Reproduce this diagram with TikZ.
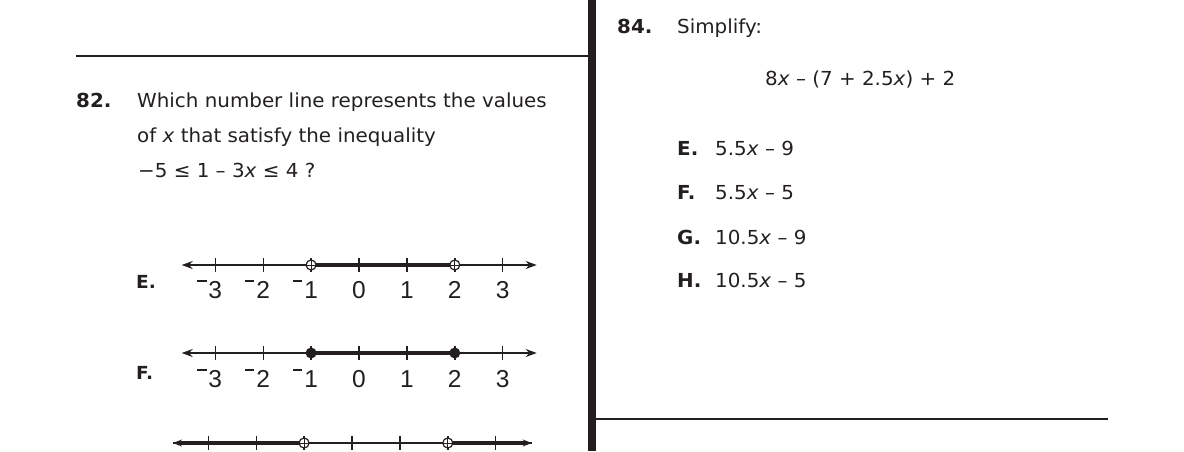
\documentclass[tikz,border=0pt]{standalone}
\usepackage{fontspec}
\setmainfont[FakeStretch=1.03]{DejaVu Sans}
\newfontfamily\numfont{Liberation Sans}
\usetikzlibrary{arrows.meta}
\definecolor{ink}{HTML}{231F20}
\newcommand{\negm}{\llap{\rule[0.64em]{0.38em}{0.08em}\kern0.08em}}
\tikzset{
  txt/.style={anchor=base west, inner sep=0pt, font=\fontsize{19.3}{19.3}\selectfont, text=ink},
  btxt/.style={txt, font=\fontsize{19.3}{19.3}\selectfont\bfseries},
  lbl/.style={anchor=base west, inner sep=0pt, font=\fontsize{18}{18}\selectfont\bfseries, text=ink},
  num/.style={anchor=base, inner sep=0pt, font=\numfont\fontsize{24.5}{24.5}\selectfont, text=ink},
  nline/.style={draw=ink, line width=1.4pt, {Stealth[length=11pt,width=8pt]}-{Stealth[length=11pt,width=8pt]}},
  thick seg/.style={draw=ink, line width=4pt},
  tickmark/.style={draw=ink, line width=1.4pt},
  rule line/.style={draw=ink, line width=1.3pt},
  opendot/.style={draw=ink, line width=1.2pt, fill=white},
  closeddot/.style={fill=ink}
}
\begin{document}
\begin{tikzpicture}[x=1pt,y=-1pt]
\useasboundingbox (0,0) rectangle (1184,451);
% separators
\fill[ink] (588,0) rectangle (596,451);
\coordinate (l1a) at (76,56);
\coordinate (l1b) at (588,56);
\draw[rule line] (l1a) -- (l1b);
\coordinate (r1a) at (596,419);
\coordinate (r1b) at (1108,419);
\draw[rule line] (r1a) -- (r1b);

% question 82
\node[btxt] (q82) at (76,107) {82.};
\node[txt] (q82a) at (137,107) {Which number line represents the values};
\node[txt] (q82b) at (137,142.5) {of \textit{x} that satisfy the inequality};
\node[txt] (q82c) at (138,177) {−5 ≤ 1 – 3\textit{x} ≤ 4 ?};

% number line E
\coordinate (eL) at (181.7,265);
\coordinate (eR) at (536.7,265);
\draw[nline] (eL) -- (eR);
\draw[thick seg] (311.1,265) -- (454.8,265);
\foreach \k in {-3,...,3} {
  \draw[tickmark] ({359+47.9*\k},258) -- ({359+47.9*\k},272);
}
\foreach \xx [count=\i] in {311.1,454.8} {
  \draw[opendot] (\xx,265) circle (5);
  \draw[ink, line width=1pt] (\xx-5.5,265) -- (\xx+5.5,265) (\xx,259.5) -- (\xx,270.5);
}
\node[lbl] (eLab) at (136,288) {E.};
\node[num] (e1) at (215.3,298) {\negm 3};
\node[num] (e2) at (263.2,298) {\negm 2};
\node[num] (e3) at (311.1,298) {\negm 1};
\node[num] (e4) at (359,298) {0};
\node[num] (e5) at (406.9,298) {1};
\node[num] (e6) at (454.8,298) {2};
\node[num] (e7) at (502.7,298) {3};

% number line F
\coordinate (fL) at (181.7,353);
\coordinate (fR) at (536.7,353);
\draw[nline] (fL) -- (fR);
\draw[thick seg] (311.1,353) -- (454.8,353);
\foreach \k in {-3,...,3} {
  \draw[tickmark] ({359+47.9*\k},346) -- ({359+47.9*\k},360);
}
\fill[closeddot] (311.1,353) circle (5.5);
\fill[closeddot] (454.8,353) circle (5.5);
\node[lbl] (fLab) at (136,379) {F.};
\node[num] (f1) at (215.3,387) {\negm 3};
\node[num] (f2) at (263.2,387) {\negm 2};
\node[num] (f3) at (311.1,387) {\negm 1};
\node[num] (f4) at (359,387) {0};
\node[num] (f5) at (406.9,387) {1};
\node[num] (f6) at (454.8,387) {2};
\node[num] (f7) at (502.7,387) {3};

% number line G (cut off)
\coordinate (gL) at (173,443);
\coordinate (gR) at (531.7,443);
\draw[draw=ink, line width=1.4pt] (gL) -- (gR);
\draw[thick seg, -{Stealth[length=9pt,width=7pt]}] (304,443) -- (gL);
\draw[thick seg, -{Stealth[length=9pt,width=7pt]}] (447.3,443) -- (gR);
\foreach \k in {-3,...,3} {
  \draw[tickmark] ({352+47.9*\k},436) -- ({352+47.9*\k},450);
}
\foreach \xx in {304.1,447.8} {
  \draw[opendot] (\xx,443) circle (5);
  \draw[ink, line width=1pt] (\xx-5.5,443) -- (\xx+5.5,443) (\xx,437.5) -- (\xx,448.5);
}

% question 84
\node[btxt] (q84) at (617,33) {84.};
\node[txt] (q84a) at (677,33) {Simplify:};
\node[txt] (expr) at (765,85) {8\textit{x} – (7 + 2.5\textit{x}) + 2};
\node[btxt] (aE) at (677,155) {E.};
\node[txt] (aEt) at (715,155) {5.5\textit{x} – 9};
\node[btxt] (aF) at (677,199) {F.};
\node[txt] (aFt) at (715,199) {5.5\textit{x} – 5};
\node[btxt] (aG) at (677,244) {G.};
\node[txt] (aGt) at (715,244) {10.5\textit{x} – 9};
\node[btxt] (aH) at (677,287) {H.};
\node[txt] (aHt) at (715,287) {10.5\textit{x} – 5};
\end{tikzpicture}
\end{document}
